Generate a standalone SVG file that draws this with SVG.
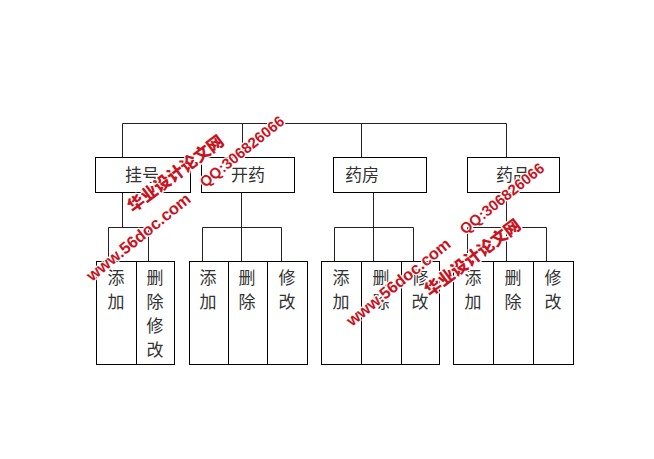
<svg xmlns="http://www.w3.org/2000/svg" width="654" height="459" viewBox="0 0 654 459">
<style>
.ln{stroke:#222;stroke-width:1;fill:none}
.bx{stroke:#000;stroke-width:1;fill:#fff}
.t{font-family:"Noto Sans CJK SC","Liberation Sans",sans-serif;font-size:17px;fill:#333;text-anchor:middle}
.wm{font-family:"Liberation Sans","Noto Sans CJK SC",sans-serif;font-weight:bold;fill:#c8141e;stroke:#fff;stroke-width:2.5;paint-order:stroke;stroke-linejoin:round}
.wc{font-family:"Noto Sans CJK SC",sans-serif;font-weight:900}
</style>
<rect width="654" height="459" fill="#fff"/>
<g id="connectors">
<path class="ln" d="M122.5 123.5H506.5M122.5 123.5V157M242.5 123.5V157M361.5 123.5V157M506.5 123.5V157"/>
<path class="ln" d="M122.5 192V227.5M108.5 227.5H148.5M108.5 227.5V261M148.5 227.5V261"/>
<path class="ln" d="M241.5 192V227.5M202.5 227.5H281.5M202.5 227.5V261M241.5 227.5V261M281.5 227.5V261"/>
<path class="ln" d="M373.5 192V227.5M334.5 227.5H413.5M334.5 227.5V261M373.5 227.5V261M413.5 227.5V261"/>
<path class="ln" d="M506.5 192V227.5M467.5 227.5H546.5M467.5 227.5V261M506.5 227.5V261M546.5 227.5V261"/>
</g>
<g id="n-guahao"><rect class="bx" x="95.5" y="157.5" width="95" height="35"/><text class="t" x="142" y="181">挂号</text></g>
<g id="n-kaiyao"><rect class="bx" x="201.5" y="157.5" width="93" height="35"/><text class="t" x="248" y="181">开药</text></g>
<g id="n-yaofang"><rect class="bx" x="333.5" y="157.5" width="93" height="35"/><text class="t" x="362" y="181">药房</text></g>
<g id="n-yaopin"><rect class="bx" x="467.5" y="157.5" width="92" height="35"/><text class="t" x="513" y="181">药品</text></g>

<g id="g1-add"><rect class="bx" x="96.5" y="261.5" width="40" height="103"/><text class="t"><tspan x="116" y="284">添</tspan><tspan x="116" y="308">加</tspan></text></g>
<g id="g1-delmod"><rect class="bx" x="136.5" y="261.5" width="38" height="103"/><text class="t"><tspan x="155" y="284">删</tspan><tspan x="155" y="308">除</tspan><tspan x="155" y="332">修</tspan><tspan x="155" y="356">改</tspan></text></g>

<g id="g2-add"><rect class="bx" x="189.5" y="261.5" width="39" height="103"/><text class="t"><tspan x="208" y="284">添</tspan><tspan x="208" y="308">加</tspan></text></g>
<g id="g2-del"><rect class="bx" x="228.5" y="261.5" width="39" height="103"/><text class="t"><tspan x="247" y="284">删</tspan><tspan x="247" y="308">除</tspan></text></g>
<g id="g2-mod"><rect class="bx" x="267.5" y="261.5" width="40" height="103"/><text class="t"><tspan x="287" y="284">修</tspan><tspan x="287" y="308">改</tspan></text></g>

<g id="g3-add"><rect class="bx" x="321.5" y="261.5" width="40" height="103"/><text class="t"><tspan x="341" y="284">添</tspan><tspan x="341" y="308">加</tspan></text></g>
<g id="g3-del"><rect class="bx" x="361.5" y="261.5" width="40" height="103"/><text class="t"><tspan x="381" y="284">删</tspan><tspan x="381" y="308">除</tspan></text></g>
<g id="g3-mod"><rect class="bx" x="401.5" y="261.5" width="38" height="103"/><text class="t"><tspan x="420" y="284">修</tspan><tspan x="420" y="308">改</tspan></text></g>

<g id="g4-add"><rect class="bx" x="453.5" y="261.5" width="40" height="103"/><text class="t"><tspan x="473" y="284">添</tspan><tspan x="473" y="308">加</tspan></text></g>
<g id="g4-del"><rect class="bx" x="493.5" y="261.5" width="40" height="103"/><text class="t"><tspan x="513" y="284">删</tspan><tspan x="513" y="308">除</tspan></text></g>
<g id="g4-mod"><rect class="bx" x="533.5" y="261.5" width="40" height="103"/><text class="t"><tspan x="553" y="284">修</tspan><tspan x="553" y="308">改</tspan></text></g>

<g id="watermark1">
<text class="wm" font-size="16.5" transform="translate(92,282) rotate(-39)">www.56doc.com</text>
<text class="wm wc" font-size="16.5" transform="translate(133,213) rotate(-37)">华业设计论文网</text>
<text class="wm" font-size="15" transform="translate(205,188) rotate(-39)">QQ:306826066</text>
</g>
<g id="watermark2">
<text class="wm" font-size="16.5" transform="translate(352,327) rotate(-39)">www.56doc.com</text>
<text class="wm wc" font-size="16.5" transform="translate(430,297) rotate(-37)">华业设计论文网</text>
<text class="wm" font-size="15" transform="translate(465,235) rotate(-39)">QQ:306826066</text>
</g>
</svg>
